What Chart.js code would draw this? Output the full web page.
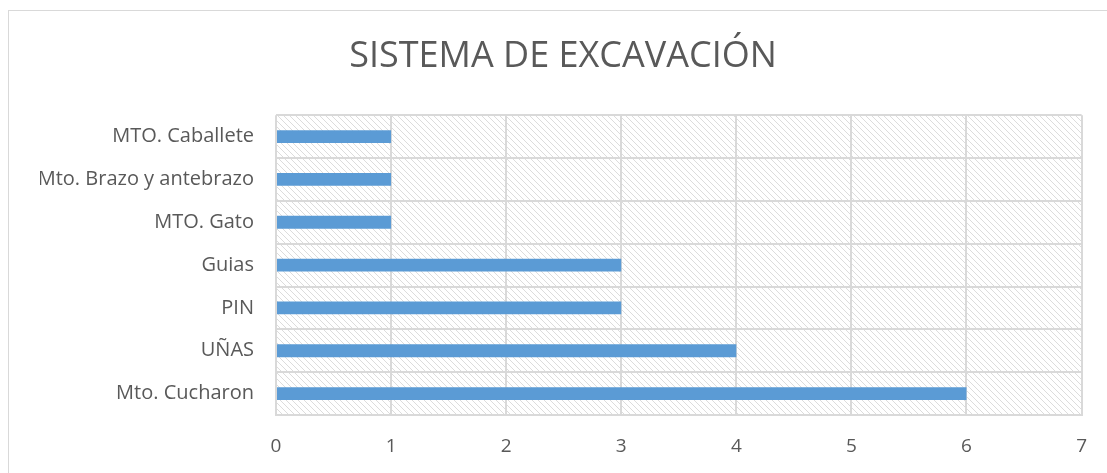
<!DOCTYPE html>
<html>
<head>
<meta charset="utf-8">
<script src="https://cdn.jsdelivr.net/npm/chart.js@4/dist/chart.umd.min.js"></script>
<style>
  html, body { margin: 0; padding: 0; background: #fff; }
  #wrap { position: relative; width: 1107px; height: 473px; }
  #frame { position: absolute; left: 8px; top: 10px; width: 1120px; height: 500px; border: 1px solid #d9d9d9; box-sizing: border-box; }
  canvas { position: absolute; left: 0; top: 0; }
</style>
</head>
<body>
<div id="wrap">
  <div id="frame"></div>
  <canvas id="chart" width="1107" height="473"></canvas>
</div>
<script>
// Chart data
const chartTitle = 'SISTEMA DE EXCAVACIÓN';
const categories = ['MTO. Caballete', 'Mto. Brazo y antebrazo', 'MTO. Gato', 'Guias', 'PIN', 'UÑAS', 'Mto. Cucharon'];
const values = [1, 1, 1, 3, 3, 4, 6];
const xTicks = [0, 1, 2, 3, 4, 5, 6, 7];

const textColor = '#595959';
const gridColor = '#d9d9d9';

// Diagonal hatch pattern for the plot area
function makeHatch() {
    const c = document.createElement('canvas');
    c.width = 6;
    c.height = 6;
    const g = c.getContext('2d');
    g.fillStyle = '#ffffff';
    g.fillRect(0, 0, 6, 6);
    g.fillStyle = '#dcdcdc';
    for (let i = 0; i < 6; i++) {
        g.fillRect(i, i, 1, 1);
    }
    return document.getElementById('chart').getContext('2d').createPattern(c, 'repeat');
}

const hatchPlugin = {
    id: 'hatch',
    beforeDraw(chart) {
        const { ctx, chartArea: a } = chart;
        ctx.save();
        ctx.fillStyle = makeHatch();
        ctx.fillRect(a.left, a.top, a.right - a.left, a.bottom - a.top);
        ctx.restore();
    }
};

new Chart(document.getElementById('chart'), {
    type: 'bar',
    data: {
        labels: categories,
        datasets: [{
            data: values,
            backgroundColor: '#5b9bd5',
            barPercentage: 0.3,
            categoryPercentage: 1
        }]
    },
    options: {
        indexAxis: 'y',
        responsive: false,
        animation: false,
        layout: { padding: { left: 40, right: 21, top: 0, bottom: 0 } },
        plugins: {
            legend: { display: false },
            tooltip: { enabled: false },
            title: {
                display: true,
                text: chartTitle,
                color: textColor,
                font: { family: 'Open Sans', size: 36, weight: 'normal' },
                padding: { top: 35, bottom: 37 }
            }
        },
        scales: {
            x: {
                min: 0,
                max: 7,
                afterBuildTicks(scale) {
                    scale.ticks = xTicks.map(v => ({ value: v }));
                },
                afterFit(scale) { scale.height = 58; },
                grid: { color: gridColor, lineWidth: 2, drawTicks: false },
                border: { color: gridColor, width: 2 },
                ticks: {
                    color: textColor,
                    padding: 20,
                    font: { family: 'Open Sans', size: 19 }
                }
            },
            y: {
                afterFit(scale) { scale.width = 236; },
                grid: { color: gridColor, lineWidth: 2, offset: true, drawTicks: false },
                border: { display: false },
                ticks: {
                    color: textColor,
                    padding: 22,
                    font: { family: 'Open Sans', size: 20 }
                }
            }
        }
    },
    plugins: [hatchPlugin]
});
</script>
</body>
</html>
